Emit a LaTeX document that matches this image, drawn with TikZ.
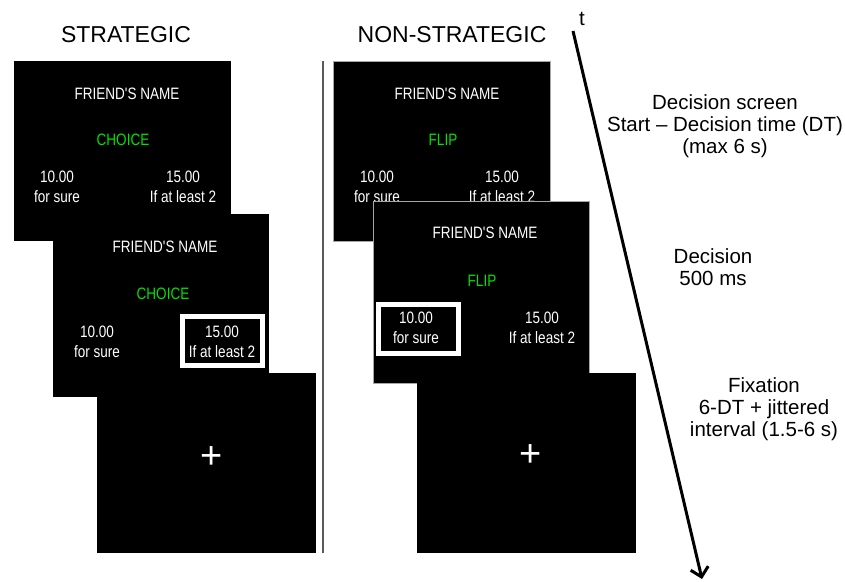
\documentclass[tikz,border=0pt]{standalone}
\usepackage{fontspec}
\setmainfont{Liberation Sans}
\newfontfamily\narrowfont[FakeStretch=0.82]{Liberation Sans}
\usetikzlibrary{arrows.meta}
\definecolor{choicegreen}{RGB}{0,225,0}
\definecolor{sepgray}{RGB}{90,90,90}
\tikzset{
  panel/.style={fill=black, draw=none, anchor=north west, inner sep=0, minimum width=217, minimum height=180},
  npanel/.style={panel, draw=gray!70, line width=0.8},
  ptext/.style={text=white, font=\narrowfont\fontsize{16.5}{20}\selectfont, align=center, inner sep=0},
  gtext/.style={ptext, text=choicegreen},
  hlbox/.style={draw=white, line width=5},
  plus/.style={text=white, font=\fontsize{38}{40}\selectfont, inner sep=0},
  title/.style={font=\fontsize{23}{27}\selectfont, inner sep=0},
  info/.style={font=\fontsize{20.5}{22}\selectfont, align=center, inner sep=0},
  sepline/.style={draw=sepgray, line width=1.5},
  timearrow/.style={line width=3, -{Straight Barb[length=9,width=18,line width=3]}}
}
\begin{document}
\begin{tikzpicture}[x=1pt,y=-1pt]
\fill[white] (0,0) rectangle (845,581);
\useasboundingbox (0,0) rectangle (845,581);

% titles
\node[title] (tS) at (126,35) {STRATEGIC};
\node[title] (tN) at (452,35) {NON-STRATEGIC};

% separator
\coordinate (sepT) at (323,61);
\coordinate (sepB) at (323,553);
\draw[sepline] (sepT) -- (sepB);

% ---- strategic column ----
\node[panel] (s1) at (14,61) {};
\node[ptext] (s1name) at ([shift={(113,33)}]s1.north west) {FRIEND'S NAME};
\node[gtext] (s1choice) at ([shift={(109,79)}]s1.north west) {CHOICE};
\node[ptext] (s1left) at ([shift={(43,126)}]s1.north west) {10.00\\for sure};
\node[ptext] (s1right) at ([shift={(169,126)}]s1.north west) {15.00\\If at least 2};

\node[panel, minimum width=216, minimum height=183] (s2) at (53,214) {};
\node[ptext] (s2name) at ([shift={(112,33)}]s2.north west) {FRIEND'S NAME};
\node[gtext] (s2choice) at ([shift={(110,80)}]s2.north west) {CHOICE};
\node[ptext] (s2left) at ([shift={(44,128)}]s2.north west) {10.00\\for sure};
\node[ptext] (s2right) at ([shift={(169,128)}]s2.north west) {15.00\\If at least 2};
\draw[hlbox] ([shift={(129.5,102.5)}]s2.north west) rectangle ([shift={(209.5,151.5)}]s2.north west);

\node[panel, minimum width=219] (s3) at (97,373) {};
\node[plus] (s3plus) at ([shift={(115,85)}]s3.north west) {+};

% ---- non-strategic column ----
\node[npanel] (n1) at (333,61) {};
\node[ptext] (n1name) at ([shift={(114,33)}]n1.north west) {FRIEND'S NAME};
\node[gtext] (n1flip) at ([shift={(110,79)}]n1.north west) {FLIP};
\node[ptext] (n1left) at ([shift={(44,126)}]n1.north west) {10.00\\for sure};
\node[ptext] (n1right) at ([shift={(169,126)}]n1.north west) {15.00\\If at least 2};

\node[npanel, minimum width=216, minimum height=182] (n2) at (373,201) {};
\node[ptext] (n2name) at ([shift={(112,32)}]n2.north west) {FRIEND'S NAME};
\node[gtext] (n2flip) at ([shift={(109,80)}]n2.north west) {FLIP};
\node[ptext] (n2left) at ([shift={(43,127)}]n2.north west) {10.00\\for sure};
\node[ptext] (n2right) at ([shift={(169,127)}]n2.north west) {15.00\\If at least 2};
\draw[hlbox] ([shift={(5.5,103.5)}]n2.north west) rectangle ([shift={(85.5,152.5)}]n2.north west);

\node[panel, minimum width=219] (n3) at (417,373) {};
\node[plus] (n3plus) at ([shift={(114,83)}]n3.north west) {+};

% ---- time axis ----
\coordinate (tTop) at (573,31);
\coordinate (tEnd) at (702,579);
\draw[timearrow] (tTop) -- (tEnd);
\node[info] (tlabel) at (582,19) {t};

\node[info] (i1) at (725,126) {Decision screen\\Start -- Decision time (DT)\\(max 6 s)};
\node[info] (i2) at (713,267.5) {Decision\\500 ms};
\node[info] (i3) at (764,409.5) {Fixation\\6-DT + jittered\\interval (1.5-6 s)};
\end{tikzpicture}
\end{document}
